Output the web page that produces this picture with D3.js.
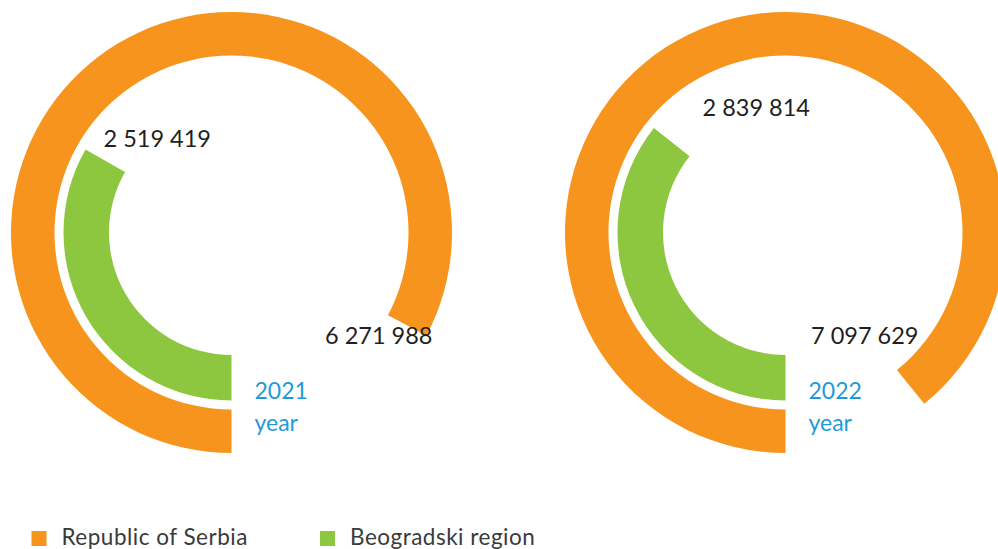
<!DOCTYPE html>
<html>
<head>
<meta charset="utf-8">
<script src="https://cdn.jsdelivr.net/npm/d3@7"></script>
<style>
  html, body { margin: 0; padding: 0; background: #fff; }
  svg { display: block; }
  text { font-family: Lato, "Open Sans", sans-serif; }
</style>
</head>
<body>
<svg id="chart" width="998" height="549"></svg>
<script>
// Population by year: whole country vs. the Belgrade region
const years = ["2021", "2022"];
const seriesNames = ["Republic of Serbia", "Beogradski region"];
const serbiaValues = [6271988, 7097629];
const beogradValues = [2519419, 2839814];
// value that would close each year's dial into a full turn
const dialFullTurn = [7580000, 7960000];

const colors = { serbia: "#F7941D", beograd: "#8DC63F", year: "#1F9AD7", text: "#231F20", legend: "#3A3A3A" };

// layout for each dial (centre, value-label anchors relative to centre)
const dials = [
  { cx: 231.5, cy: 232.5, outerLabel: [201, 111], innerLabel: [-128, -86] },
  { cx: 785.5, cy: 232.5, outerLabel: [133, 111], innerLabel: [-83, -117] }
];
const rings = {
  serbia: { inner: 177, outer: 220.5 },
  beograd: { inner: 122.5, outer: 168 }
};

const fmt = d3.formatLocale({ decimal: ",", thousands: " ", grouping: [3], currency: ["", ""] }).format(",d");

const svg = d3.select("#chart");
const arc = d3.arc();

years.forEach((year, i) => {
  const d = dials[i];
  // angle scale: start at 6 o'clock, sweep clockwise
  const angle = d3.scaleLinear().domain([0, dialFullTurn[i]]).range([Math.PI, 3 * Math.PI]);
  const g = svg.append("g").attr("transform", `translate(${d.cx},${d.cy})`);

  g.append("path")
    .attr("d", arc({ innerRadius: rings.serbia.inner, outerRadius: rings.serbia.outer,
                     startAngle: angle(0), endAngle: angle(serbiaValues[i]) }))
    .attr("fill", colors.serbia);

  g.append("path")
    .attr("d", arc({ innerRadius: rings.beograd.inner, outerRadius: rings.beograd.outer,
                     startAngle: angle(0), endAngle: angle(beogradValues[i]) }))
    .attr("fill", colors.beograd);

  g.append("text")
    .attr("x", d.outerLabel[0]).attr("y", d.outerLabel[1])
    .attr("text-anchor", "end")
    .attr("font-size", 23.5).attr("fill", colors.text)
    .text(fmt(serbiaValues[i]));

  g.append("text")
    .attr("x", d.innerLabel[0]).attr("y", d.innerLabel[1])
    .attr("text-anchor", "start")
    .attr("font-size", 23.5).attr("fill", colors.text)
    .text(fmt(beogradValues[i]));

  const yl = g.append("text")
    .attr("x", 23).attr("y", 166.5)
    .attr("font-size", 23).attr("fill", colors.year);
  yl.append("tspan").attr("x", 23).text(year);
  yl.append("tspan").attr("x", 23).attr("dy", 32).text("year");
});

// legend
const legendItems = [
  { name: seriesNames[0], color: colors.serbia, x: 31.5 },
  { name: seriesNames[1], color: colors.beograd, x: 320 }
];
const lg = svg.append("g");
legendItems.forEach(it => {
  lg.append("rect").attr("x", it.x).attr("y", 531).attr("width", 15).attr("height", 15).attr("fill", it.color);
  lg.append("text").attr("x", it.x + 30).attr("y", 544.5)
    .attr("font-size", 22.5).attr("letter-spacing", 0.5)
    .attr("fill", colors.legend).text(it.name);
});
</script>
</body>
</html>
